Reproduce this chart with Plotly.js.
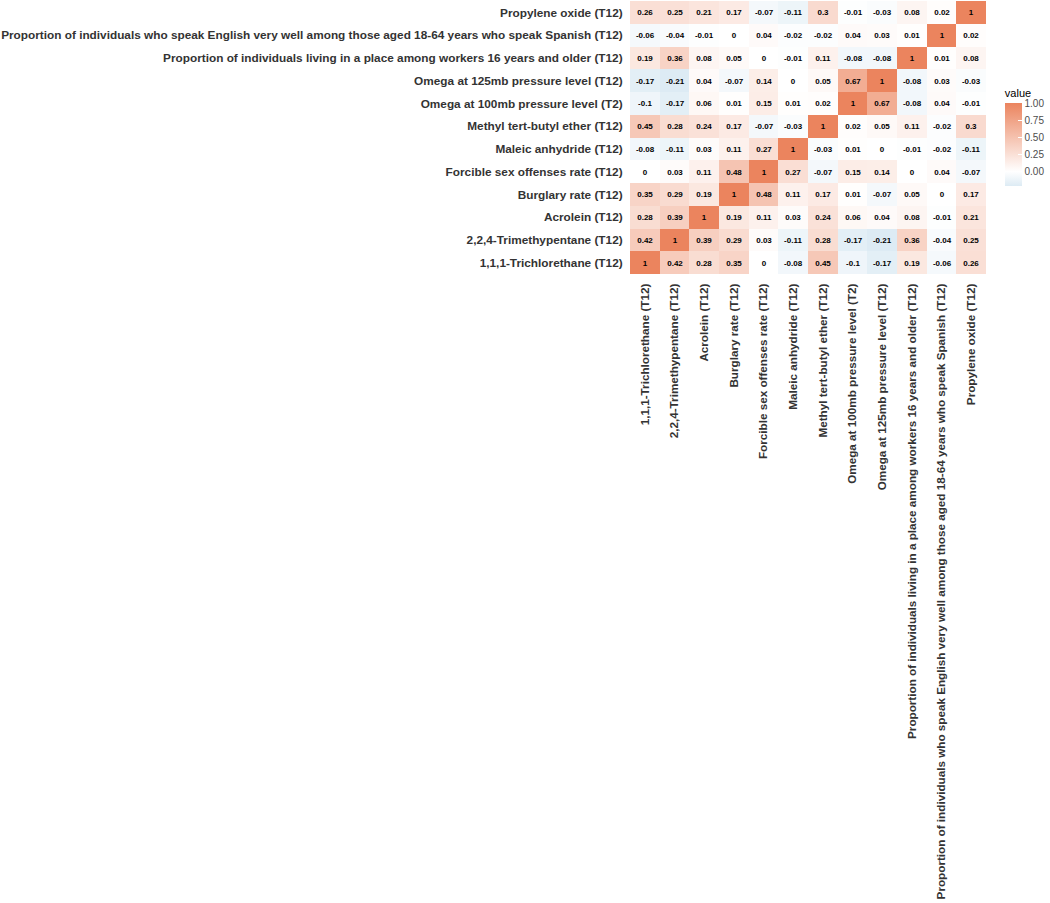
<!DOCTYPE html>
<html>
<head>
<meta charset="utf-8">
<script src="https://cdn.plot.ly/plotly-3.0.1.min.js"></script>
<style>html,body{margin:0;padding:0;background:#fff;}#chart{width:1050px;height:903px;}</style>
</head>
<body>
<div id="chart"></div>
<script>
var categories = [
  "1,1,1-Trichlorethane (T12)",
  "2,2,4-Trimethypentane (T12)",
  "Acrolein (T12)",
  "Burglary rate (T12)",
  "Forcible sex offenses rate (T12)",
  "Maleic anhydride (T12)",
  "Methyl tert-butyl ether (T12)",
  "Omega at 100mb pressure level (T2)",
  "Omega at 125mb pressure level (T12)",
  "Proportion of individuals living in a place among workers 16 years and older (T12)",
  "Proportion of individuals who speak English very well among those aged 18-64 years who speak Spanish (T12)",
  "Propylene oxide (T12)"
];
// rows in order of categories (bottom to top), columns in order of categories
var rowTCE      = [1, 0.42, 0.28, 0.35, 0, -0.08, 0.45, -0.1, -0.17, 0.19, -0.06, 0.26];
var rowTMP      = [0.42, 1, 0.39, 0.29, 0.03, -0.11, 0.28, -0.17, -0.21, 0.36, -0.04, 0.25];
var rowAcrolein = [0.28, 0.39, 1, 0.19, 0.11, 0.03, 0.24, 0.06, 0.04, 0.08, -0.01, 0.21];
var rowBurglary = [0.35, 0.29, 0.19, 1, 0.48, 0.11, 0.17, 0.01, -0.07, 0.05, 0, 0.17];
var rowForcible = [0, 0.03, 0.11, 0.48, 1, 0.27, -0.07, 0.15, 0.14, 0, 0.04, -0.07];
var rowMaleic   = [-0.08, -0.11, 0.03, 0.11, 0.27, 1, -0.03, 0.01, 0, -0.01, -0.02, -0.11];
var rowMTBE     = [0.45, 0.28, 0.24, 0.17, -0.07, -0.03, 1, 0.02, 0.05, 0.11, -0.02, 0.3];
var rowOmega100 = [-0.1, -0.17, 0.06, 0.01, 0.15, 0.01, 0.02, 1, 0.67, -0.08, 0.04, -0.01];
var rowOmega125 = [-0.17, -0.21, 0.04, -0.07, 0.14, 0, 0.05, 0.67, 1, -0.08, 0.03, -0.03];
var rowLiving   = [0.19, 0.36, 0.08, 0.05, 0, -0.01, 0.11, -0.08, -0.08, 1, 0.01, 0.08];
var rowEnglish  = [-0.06, -0.04, -0.01, 0, 0.04, -0.02, -0.02, 0.04, 0.03, 0.01, 1, 0.02];
var rowPropylene= [0.26, 0.25, 0.21, 0.17, -0.07, -0.11, 0.3, -0.01, -0.03, 0.08, 0.02, 1];
var colorbarTicks = [0, 0.25, 0.5, 0.75, 1];

var z = [rowTCE,rowTMP,rowAcrolein,rowBurglary,rowForcible,rowMaleic,rowMTBE,rowOmega100,rowOmega125,rowLiving,rowEnglish,rowPropylene];
var text = z.map(function(r){return r.map(function(v){return String(v);});});

var zmin = -0.21, zmax = 1;
var midFrac = (0 - zmin)/(zmax - zmin);
var fam = "Liberation Sans, Arial, sans-serif";

var trace = {
  type: "heatmap",
  x: categories,
  y: categories,
  z: z,
  text: text,
  texttemplate: "%{text}",
  textfont: {family: fam, size: 8, color: "#000000", weight: "bold"},
  zmin: zmin, zmax: zmax,
  colorscale: [
    [0, "rgb(221,235,244)"],
    [midFrac, "rgb(255,255,255)"],
    [1, "rgb(235,132,94)"]
  ],
  colorbar: {
    x: 1.053, xanchor: "left",
    y: 0.322, yanchor: "bottom",
    len: 100, lenmode: "pixels",
    thickness: 17,
    outlinewidth: 0,
    tickvals: colorbarTicks,
    ticktext: colorbarTicks.map(function(v){return v.toFixed(2);}),
    ticks: "inside", ticklen: 4, tickcolor: "#ffffff", tickwidth: 1,
    tickfont: {family: fam, size: 10, color: "#4d4d4d"},
    title: {text: "value", side: "top", font: {family: fam, size: 11, color: "#000"}},
    xpad: 0, ypad: 0
  }
};

var xFont = {family: fam, size: 11.7, color: "#333333", weight: "bold"};
var yFont = {family: fam, size: 11.8, color: "#333333", weight: "bold"};
var layout = {
  width: 1050, height: 903,
  margin: {l: 630, r: 59, t: 1, b: 629, pad: 0},
  paper_bgcolor: "#fff", plot_bgcolor: "#fff",
  xaxis: {type: "category", tickangle: -90, tickfont: xFont, ticks: "outside", ticklen: 4, tickcolor: "rgba(0,0,0,0)", showgrid: false, zeroline: false, showline: false, automargin: false},
  yaxis: {type: "category", tickfont: yFont, ticks: "outside", ticklen: 4, tickcolor: "rgba(0,0,0,0)", showgrid: false, zeroline: false, showline: false, automargin: false},
  font: {family: fam}
};
Plotly.newPlot("chart", [trace], layout, {displayModeBar: false, staticPlot: true});
</script>
</body>
</html>
